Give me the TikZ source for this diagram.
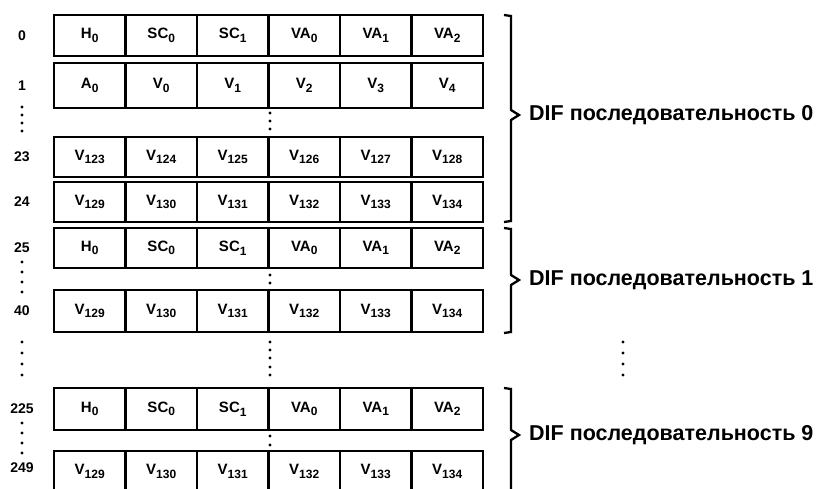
\documentclass[tikz,border=0pt]{standalone}
\usepackage{fontspec}
\setmainfont{Liberation Sans}
\newcommand\sbs[1]{\raisebox{-0.45ex}{\fontsize{12}{12}\selectfont #1}}
\newcommand\cellrow[4]{%
  \foreach \t [count=\i from 0] in {#4} {
    \node[cell, minimum height={#3-#2}] (#1-\i) at ({54+71.5*(\i+0.5)},{(#2+#3)/2}) {\t};
  }}
\begin{document}
\begin{tikzpicture}[x=1pt,y=-1pt,
  cell/.style={draw, line width=2.3pt, minimum width=71.5pt, inner sep=0pt,
    font=\fontsize{15}{15}\selectfont\bfseries},
  lbl/.style={font=\fontsize{14}{14}\selectfont\bfseries, inner sep=0pt},
  dif/.style={font=\fontsize{21.5}{21.5}\selectfont\bfseries, anchor=west, inner sep=0pt},
  brc/.style={line width=2.3pt, line join=miter},
  dotc/.style={fill=black}]
\useasboundingbox (0,0) rectangle (824,488);
\clip (0,0) rectangle (824,488);

% rows
\cellrow{r0}{15}{56}{H\sbs{0}, SC\sbs{0}, SC\sbs{1}, VA\sbs{0}, VA\sbs{1}, VA\sbs{2}}
\cellrow{r1}{63}{108}{A\sbs{0}, V\sbs{0}, V\sbs{1}, V\sbs{2}, V\sbs{3}, V\sbs{4}}
\cellrow{r23}{137}{177}{V\sbs{123}, V\sbs{124}, V\sbs{125}, V\sbs{126}, V\sbs{127}, V\sbs{128}}
\cellrow{r24}{182}{222}{V\sbs{129}, V\sbs{130}, V\sbs{131}, V\sbs{132}, V\sbs{133}, V\sbs{134}}
\cellrow{r25}{228}{268}{H\sbs{0}, SC\sbs{0}, SC\sbs{1}, VA\sbs{0}, VA\sbs{1}, VA\sbs{2}}
\cellrow{r40}{290}{332}{V\sbs{129}, V\sbs{130}, V\sbs{131}, V\sbs{132}, V\sbs{133}, V\sbs{134}}
\cellrow{r225}{388}{430}{H\sbs{0}, SC\sbs{0}, SC\sbs{1}, VA\sbs{0}, VA\sbs{1}, VA\sbs{2}}
\cellrow{r249}{451}{492}{V\sbs{129}, V\sbs{130}, V\sbs{131}, V\sbs{132}, V\sbs{133}, V\sbs{134}}

% row numbers
\node[lbl] (n0) at (22,35.5) {0};
\node[lbl] (n1) at (22,85.5) {1};
\node[lbl] (n23) at (22,157) {23};
\node[lbl] (n24) at (22,202) {24};
\node[lbl] (n25) at (22,248) {25};
\node[lbl] (n40) at (22,311) {40};
\node[lbl] (n225) at (22,409) {225};
\node[lbl] (n249) at (22,468) {249};

% vertical ellipses
\foreach \y in {107,115,123,131, 262,272,282,292, 342,353,364,375, 423,433,443,453}
  \fill[dotc] (22,\y) circle (1.6);
\foreach \y in {113,121,129, 275,283, 342,350,358,367,375, 436,445}
  \fill[dotc] (270,\y) circle (1.6);
\foreach \y in {342,353,364,375}
  \fill[dotc] (623,\y) circle (1.6);

% braces
\coordinate (t0) at (519,115);
\coordinate (t1) at (519,280);
\coordinate (t9) at (519,435);
\draw[brc] (504,15) -- (511,16) -- (511,110) -- (t0) -- (511,120) -- (511,221) -- (504,222);
\draw[brc] (504,228) -- (511,229) -- (511,275) -- (t1) -- (511,285) -- (511,332) -- (504,333);
\draw[brc] (504,388) -- (511,389) -- (511,430) -- (t9) -- (511,440) -- (511,492);

\node[dif] (d0) at ([xshift=10pt]t0) {DIF последовательность 0};
\node[dif] (d1) at ([xshift=10pt]t1) {DIF последовательность 1};
\node[dif] (d9) at ([xshift=10pt]t9) {DIF последовательность 9};
\end{tikzpicture}
\end{document}
